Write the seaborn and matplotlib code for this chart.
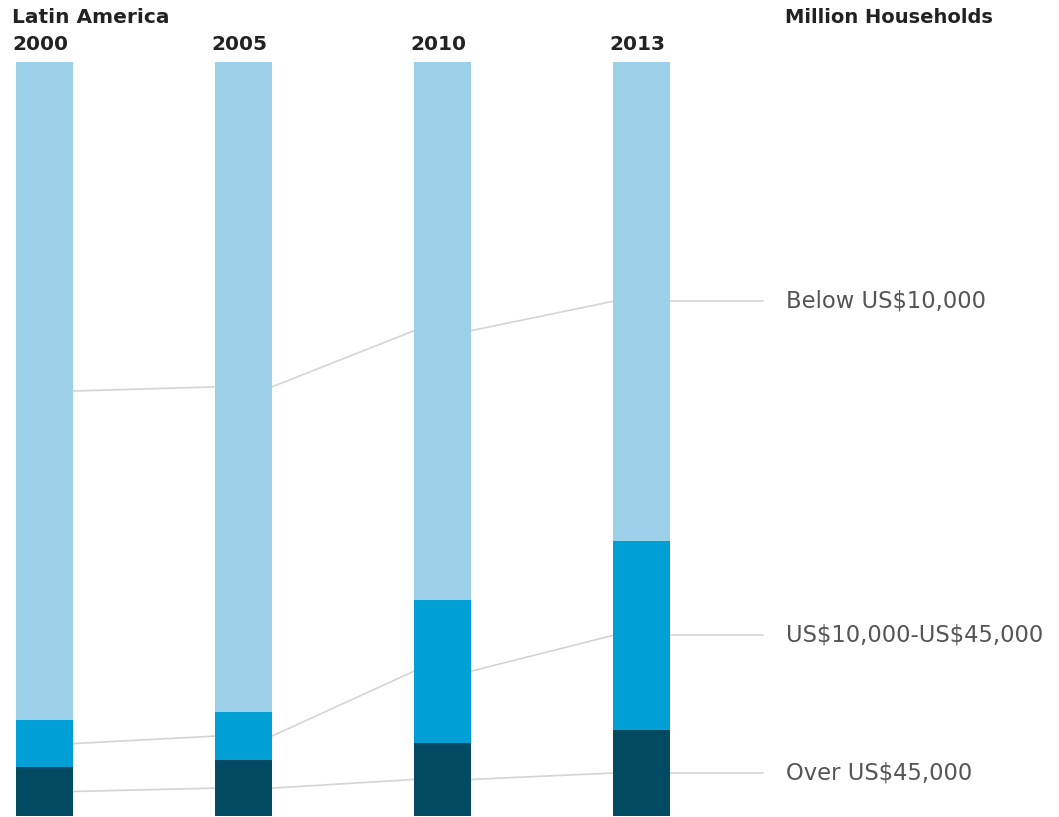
import matplotlib
matplotlib.use("Agg")
import matplotlib.pyplot as plt
import seaborn as sns
import pandas as pd
import numpy as np

years = ["2000", "2005", "2010", "2013"]
# shares of households by income band (%)
over_45k = [6.5, 7.4, 9.7, 11.4]
mid_10_45k = [6.2, 6.4, 19.0, 25.1]
below_10k = [87.3, 86.2, 71.3, 63.5]
band_labels = [r"Below US\$10,000", r"US\$10,000-US\$45,000", r"Over US\$45,000"]

c_light = "#9ccfe8"
c_mid = "#009fd6"
c_dark = "#024a62"
line_c = "#d4d4d4"

df = pd.DataFrame({"year": years, "dark": over_45k, "mid": mid_10_45k, "light": below_10k})
df["top_mid"] = df["dark"] + df["mid"]
df["total"] = df["top_mid"] + df["light"]

sns.set_style("white")
plt.rcParams['font.family'] = ['DejaVu Sans']

fig = plt.figure(figsize=(10.59, 8.17), dpi=100)
ax = fig.add_axes([0, 0, 1, 1])

bw = 0.286
# stacked look: draw totals first, then overlay the lower parts
sns.barplot(data=df, x="year", y="total", order=years, color=c_light, width=bw,
            saturation=1, ax=ax, linewidth=0)
sns.barplot(data=df, x="year", y="top_mid", order=years, color=c_mid, width=bw,
            saturation=1, ax=ax, linewidth=0)
sns.barplot(data=df, x="year", y="dark", order=years, color=c_dark, width=bw,
            saturation=1, ax=ax, linewidth=0)

ax.set_xlim(-0.2236, 5.098)
ax.set_ylim(-0.13, 108.2)
ax.set_axis_off()

# connector lines through segment midpoints
mids = [
    (df["top_mid"] + df["light"] / 2).values,
    (df["dark"] + df["mid"] / 2).values,
    (df["dark"] / 2).values,
]
xs = np.arange(len(years))
for m in mids:
    for i in range(len(years) - 1):
        ax.plot([xs[i] + bw / 2, xs[i + 1] - bw / 2], [m[i], m[i + 1]],
                color=line_c, lw=1.2, zorder=0)
    ax.plot([xs[-1] + bw / 2, 3.61], [m[-1], m[-1]], color=line_c, lw=1.2, zorder=0)

for m, lab in zip(mids, band_labels):
    ax.text(3.726, m[-1], lab, ha="left", va="center", fontsize=16.3, color="#555555")

for i, y in enumerate(years):
    ax.text(xs[i] - bw / 2 - 0.018, 102.3, y, ha="left", va="center",
            fontsize=14.5, fontweight="bold", color="#222222")

ax.text(-0.165, 105.9, "Latin America", ha="left", va="center",
        fontsize=14.5, fontweight="bold", color="#222222")
ax.text(3.72, 105.9, "Million Households", ha="left", va="center",
        fontsize=14, fontweight="bold", color="#222222")

fig.savefig("out.png", dpi=100)
